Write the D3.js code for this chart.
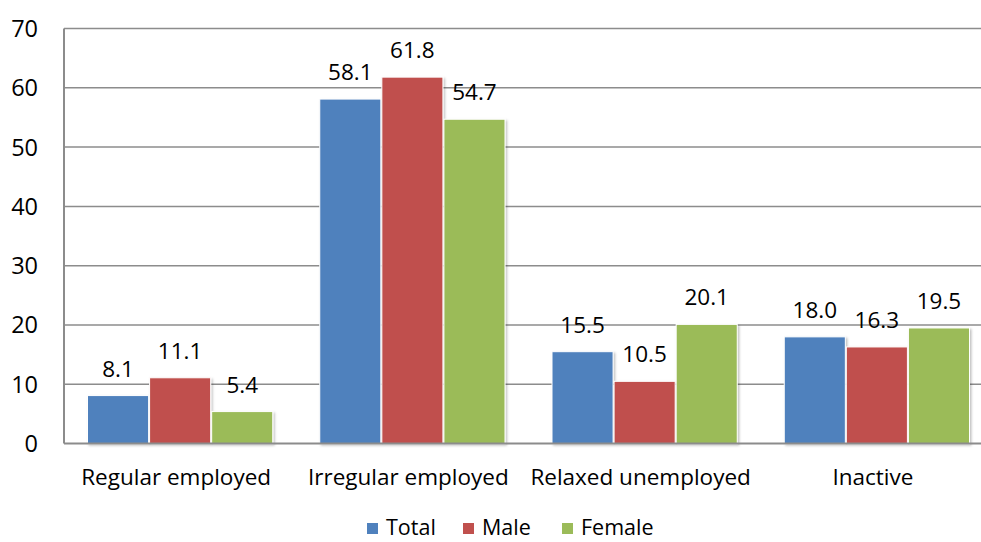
<!DOCTYPE html>
<html><head><meta charset="utf-8">
<script src="https://cdn.jsdelivr.net/npm/d3@7"></script>
<style>body{margin:0;background:#fff;}svg{display:block;font-family:"Open Sans",sans-serif;}</style>
</head><body>
<svg id="c" width="981" height="542"></svg>
<script>
const categories = ["Regular employed","Irregular employed","Relaxed unemployed","Inactive"];
const seriesNames = ["Total","Male","Female"];
const totalVals = [8.1, 58.1, 15.5, 18.0];
const maleVals = [11.1, 61.8, 10.5, 16.3];
const femaleVals = [5.4, 54.7, 20.1, 19.5];
const yTicks = [0,10,20,30,40,50,60,70];
const colors = ["#4F81BD","#C0504D","#9BBB59"];

(function(){
const values = [totalVals, maleVals, femaleVals];
const svg = d3.select("#c");
const pL = 64, pR = 993, pT = 28.5, pB = 443.6;

const defs = svg.append("defs");
const f = defs.append("filter").attr("id","sh").attr("x","-10%").attr("y","-10%").attr("width","130%").attr("height","130%");
f.append("feDropShadow").attr("dx",1.5).attr("dy",1.5).attr("stdDeviation",1.2).attr("flood-color","#000").attr("flood-opacity",0.25);

const y = d3.scaleLinear().domain([0,70]).range([pB, pT]);
const band = (pR-pL)/categories.length;
const xc = d3.scaleBand().domain(categories).range([pL, pR]).padding(0);
const x1 = d3.scaleBand().domain(seriesNames).range([23, band-23]).padding(0);

svg.append("g").selectAll("line").data(yTicks.filter(d=>d>0)).join("line")
  .attr("x1", pL).attr("x2", pR).attr("y1", d=>y(d)).attr("y2", d=>y(d))
  .attr("stroke","#8c8c8c").attr("stroke-width",1.5);

svg.append("g").selectAll("text").data(yTicks).join("text")
  .attr("x", 38).attr("y", d=>y(d)).attr("dy","0.36em").attr("text-anchor","end")
  .attr("font-size", 23.5).attr("fill","#000").text(d=>d);

const g = svg.append("g");
categories.forEach((cat, ci) => {
  seriesNames.forEach((s, si) => {
    const v = values[si][ci];
    const bx = xc(cat) + x1(s);
    g.append("rect").attr("x", bx+0.5).attr("y", y(v)).attr("width", x1.bandwidth()-1).attr("height", y(0)-y(v))
      .attr("fill", colors[si]).attr("stroke","#fff").attr("stroke-width",1).attr("filter","url(#sh)");
    svg.append("text").attr("x", bx + x1.bandwidth()/2).attr("y", y(v) - 19)
      .attr("text-anchor","middle").attr("font-size",22.5).attr("fill","#000").text(v.toFixed(1));
  });
});

svg.append("line").attr("x1",pL).attr("x2",pL).attr("y1",pT).attr("y2",pB).attr("stroke","#8c8c8c").attr("stroke-width",2);
svg.append("line").attr("x1",pL).attr("x2",pR).attr("y1",pB).attr("y2",pB).attr("stroke","#8c8c8c").attr("stroke-width",2);

svg.append("g").selectAll("text").data(categories).join("text")
  .attr("x", d=>xc(d)+band/2 - 4).attr("y", 485).attr("text-anchor","middle")
  .attr("font-size",22.5).attr("fill","#000").text(d=>d);

const legX = [367, 463, 562];
const lg = svg.append("g");
seriesNames.forEach((s,i)=>{
  lg.append("rect").attr("x",legX[i]).attr("y",523).attr("width",11).attr("height",11).attr("fill",colors[i]);
  lg.append("text").attr("x",legX[i]+19).attr("y",535).attr("font-size",21.5).attr("fill","#000").text(s);
});
})();
</script>
</body></html>
